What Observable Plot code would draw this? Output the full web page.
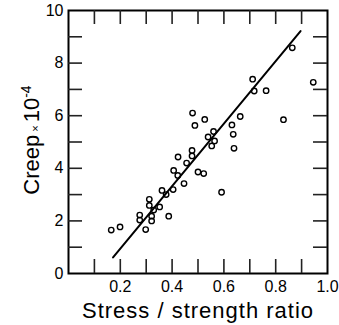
<!DOCTYPE html>
<html>
<head>
<meta charset="utf-8">
<script src="https://cdn.jsdelivr.net/npm/d3@7"></script>
<script src="https://cdn.jsdelivr.net/npm/@observablehq/plot@0.6"></script>
<style>
  html, body { margin: 0; padding: 0; background: white; }
  #chart svg text { font-family: 'Liberation Sans', Arial, Helvetica, sans-serif; }
</style>
</head>
<body>
<div id="chart"></div>
<script>
// Observed points: stress/strength ratio vs creep (×10^-4)
const ratio = [0.165, 0.199, 0.275, 0.275, 0.298, 0.312, 0.312, 0.321, 0.321, 0.329,
               0.352, 0.361, 0.377, 0.387, 0.404, 0.406, 0.422, 0.423, 0.446, 0.456,
               0.477, 0.477, 0.479, 0.488, 0.500, 0.522, 0.526, 0.539, 0.553, 0.560,
               0.564, 0.591, 0.631, 0.636, 0.639, 0.663, 0.711, 0.717, 0.763, 0.830,
               0.864, 0.945];
const creep = [1.65, 1.77, 2.22, 2.03, 1.67, 2.82, 2.59, 2.18, 2.00, 2.41,
               2.53, 3.16, 3.00, 2.18, 3.19, 3.92, 3.73, 4.43, 3.42, 4.20,
               4.68, 4.47, 6.10, 5.63, 3.86, 3.80, 5.86, 5.19, 4.85, 5.40,
               5.04, 3.09, 5.65, 5.29, 4.76, 5.97, 7.39, 6.94, 6.95, 5.85,
               8.58, 7.27];
// Fitted line end points
const fitRatio = [0.172, 0.896];
const fitCreep = [0.61, 9.22];
// Axis ticks
const xTickLabels = [0.2, 0.4, 0.6, 0.8, 1.0];
const yTickLabels = [0, 2, 4, 6, 8, 10];
const xTickMarks = [0.1, 0.2, 0.3, 0.4, 0.5, 0.6, 0.7, 0.8, 0.9];
const yTickMarks = [1, 2, 3, 4, 5, 6, 7, 8, 9];
const xTitle = "Stress / strength ratio";
const yTitle = "Creep×10-4";

const points = ratio.map((r, i) => ({x: r, y: creep[i]}));
const fit = fitRatio.map((r, i) => ({x: r, y: fitCreep[i]}));

const W = 339, H = 325, ML = 68, MR = 12, MT = 10, MB = 52;
const frameW = W - ML - MR, frameH = H - MT - MB, TL = 14;
const tickColor = "#222";

const svg = Plot.plot({
  width: W, height: H,
  marginLeft: ML, marginRight: MR, marginTop: MT, marginBottom: MB,
  x: {domain: [0, 1]},
  y: {domain: [0, 10]},
  marks: [
    Plot.frame({strokeWidth: 2, fill: "none", stroke: "#000"}),
    // inward ticks on all four sides
    Plot.tickX(xTickMarks, {x: d => d, insetTop: frameH - TL, stroke: tickColor, strokeWidth: 1.6}),
    Plot.tickX(xTickMarks, {x: d => d, insetBottom: frameH - TL, stroke: tickColor, strokeWidth: 1.6}),
    Plot.tickY(yTickMarks, {y: d => d, insetRight: frameW - TL, stroke: tickColor, strokeWidth: 1.6}),
    Plot.tickY(yTickMarks, {y: d => d, insetLeft: frameW - TL, stroke: tickColor, strokeWidth: 1.6}),
    // tick labels
    Plot.axisX({anchor: "bottom", ticks: xTickLabels, tickSize: 0, tickPadding: 7, tickFormat: d3.format(".1f"), label: null, fontSize: 16}),
    Plot.axisY({anchor: "left", ticks: yTickLabels, tickSize: 0, tickPadding: 5, label: null, fontSize: 16}),
    Plot.line(fit, {x: "x", y: "y", stroke: "#000", strokeWidth: 2}),
    Plot.dot(points, {x: "x", y: "y", r: 2.7, stroke: "#000", strokeWidth: 1.4, fill: "none"}),
    Plot.text([xTitle], {text: d => d, frameAnchor: "bottom", textAnchor: "middle", lineAnchor: "middle", dy: 37, fontSize: 22}),
    Plot.text([yTitle], {text: d => d, frameAnchor: "left", textAnchor: "middle", lineAnchor: "middle", rotate: -90, dx: -37, dy: -2, fontSize: 22})
  ]
});

// style the titles
d3.select(svg).selectAll("text").filter(function() { return this.textContent === xTitle; })
  .style("letter-spacing", "1px");
const yt = d3.select(svg).selectAll("text").filter(function() { return this.textContent === yTitle; });
yt.text(null);
yt.append("tspan").text("Creep");
yt.append("tspan").attr("font-size", 11).attr("dx", 3).text("×");
yt.append("tspan").attr("dx", 3).text("10");
yt.append("tspan").attr("font-size", 14).attr("dy", -8).text("-4");

document.getElementById("chart").appendChild(svg);
</script>
</body>
</html>
